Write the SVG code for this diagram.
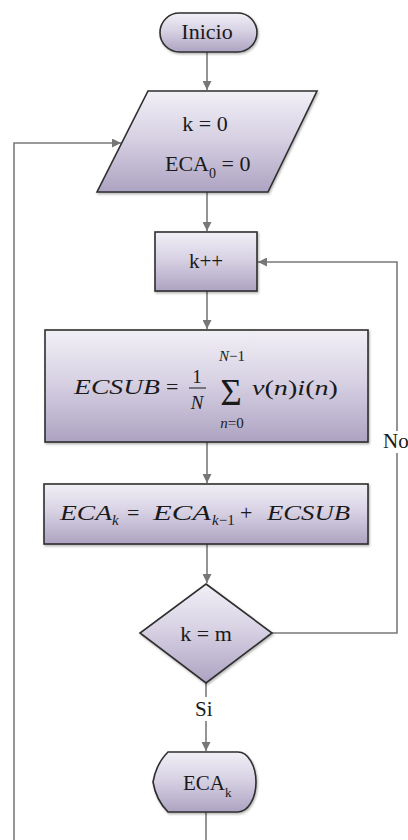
<svg xmlns="http://www.w3.org/2000/svg" width="408" height="840" viewBox="0 0 408 840">
<defs>
<linearGradient id="g" x1="0" y1="0" x2="0" y2="1">
<stop offset="0" stop-color="#f1eff6"/>
<stop offset="0.45" stop-color="#d8d2e4"/>
<stop offset="1" stop-color="#ada3c2"/>
</linearGradient>
<marker id="ah" viewBox="0 0 10 10" refX="10" refY="5" markerWidth="9" markerHeight="9" markerUnits="userSpaceOnUse" orient="auto">
<path d="M0,0 L10,5 L0,10 Z" fill="#777"/>
</marker>
<filter id="sh" x="-10%" y="-10%" width="120%" height="130%">
<feDropShadow dx="1" dy="1.5" stdDeviation="1.2" flood-color="#000" flood-opacity="0.3"/>
</filter>
</defs>
<style>
.n{fill:url(#g);stroke:#2e2e2e;stroke-width:1.6;filter:url(#sh)}
.c{fill:none;stroke:#7a7a7a;stroke-width:1.6}
text{font-family:'Liberation Serif','Times New Roman',serif;fill:#1a1a1a}
.t{font-size:21px}
.m{font-style:italic}
.up{font-style:normal}
</style>
<g id="connectors">
<path class="c" d="M207,52 V90" marker-end="url(#ah)"/>
<path class="c" d="M207,192 V231" marker-end="url(#ah)"/>
<path class="c" d="M207,291 V329" marker-end="url(#ah)"/>
<path class="c" d="M207,442 V483" marker-end="url(#ah)"/>
<path class="c" d="M207,544 V583" marker-end="url(#ah)"/>
<path class="c" d="M206,683 V751" marker-end="url(#ah)"/>
<path class="c" d="M272,633 H397 V262 H258" marker-end="url(#ah)"/>
<path class="c" d="M206,812 V842 H14 V143 H121" marker-end="url(#ah)"/>
<rect x="382" y="431" width="26" height="22" fill="#fff"/>
<text class="t" x="383" y="448">No</text>
<rect x="193" y="697" width="24" height="24" fill="#fff"/>
<text class="t" x="195" y="716">Si</text>
</g>
<g id="inicio">
<rect class="n" x="160" y="13" width="97" height="39" rx="19.5"/>
<text class="t" x="207" y="39" text-anchor="middle" style="font-size:22px">Inicio</text>
</g>
<g id="init">
<path class="n" d="M148,91 H317 L268,192 H97 Z"/>
<text class="t" x="205" y="131" text-anchor="middle" style="font-size:22px">k = 0</text>
<text class="t" x="165" y="171" style="font-size:22px">ECA<tspan dy="7" style="font-size:14px">0</tspan><tspan dy="-7"> = 0</tspan></text>
</g>
<g id="inc">
<rect class="n" x="155" y="232" width="102" height="59"/>
<text class="t" x="206" y="268" text-anchor="middle" style="font-size:21px">k++</text>
</g>
<g id="ecsub">
<rect class="n" x="45" y="330" width="323" height="112"/>
<text class="m" x="74" y="394" style="font-size:22px" textLength="86" lengthAdjust="spacingAndGlyphs">ECSUB</text>
<text x="166" y="394" style="font-size:22px">=</text>
<text x="197" y="383" text-anchor="middle" style="font-size:19px">1</text>
<line x1="189" y1="388" x2="206" y2="388" stroke="#1a1a1a" stroke-width="1"/>
<text class="m" x="197" y="409" text-anchor="middle" style="font-size:19px">N</text>
<text x="231" y="405" text-anchor="middle" style="font-size:37px">Σ</text>
<text class="m" x="232" y="361" text-anchor="middle" style="font-size:15px">N<tspan class="up">−1</tspan></text>
<text class="m" x="232" y="428" text-anchor="middle" style="font-size:15px">n<tspan class="up">=0</tspan></text>
<text class="m" x="252" y="395" style="font-size:22px" textLength="86" lengthAdjust="spacingAndGlyphs">v<tspan class="up">(</tspan>n<tspan class="up">)</tspan>i<tspan class="up">(</tspan>n<tspan class="up">)</tspan></text>
</g>
<g id="eca">
<rect class="n" x="44" y="484" width="324" height="60"/>
<text class="m" x="60" y="520" style="font-size:22px" textLength="52" lengthAdjust="spacingAndGlyphs">ECA</text>
<text class="m" x="112" y="525" style="font-size:15px">k</text>
<text x="127" y="520" style="font-size:22px">=</text>
<text class="m" x="153" y="520" style="font-size:22px" textLength="58" lengthAdjust="spacingAndGlyphs">ECA</text>
<text class="m" x="212" y="525" style="font-size:15px">k<tspan class="up">−1</tspan></text>
<text x="240" y="520" style="font-size:22px">+</text>
<text class="m" x="267" y="520" style="font-size:22px" textLength="83" lengthAdjust="spacingAndGlyphs">ECSUB</text>
</g>
<g id="decision">
<path class="n" d="M206,584 L272,633 L206,683 L140,633 Z"/>
<text class="t" x="206" y="641" text-anchor="middle" style="font-size:22px">k = m</text>
</g>
<g id="output">
<path class="n" d="M168,752 H238 A18,30 0 0 1 238,812 H168 Q156,800 153,782 Q156,764 168,752 Z"/>
<text class="t" x="183" y="790" style="font-size:21px">ECA<tspan dy="7" style="font-size:13px">k</tspan></text>
</g>
</svg>
